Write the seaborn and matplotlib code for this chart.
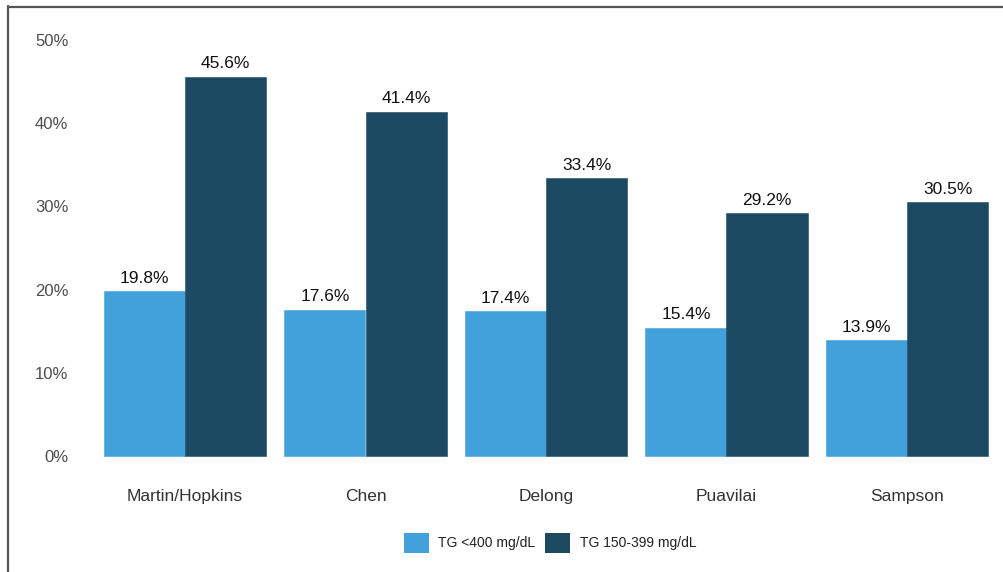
import matplotlib
matplotlib.use("Agg")
import matplotlib.pyplot as plt
import seaborn as sns
import pandas as pd
from matplotlib.lines import Line2D
from matplotlib.patches import Patch

methods = ["Martin/Hopkins", "Chen", "Delong", "Puavilai", "Sampson"]
groups = ["TG <400 mg/dL", "TG 150-399 mg/dL"]
tg_lt400 = [19.8, 17.6, 17.4, 15.4, 13.9]
tg_150_399 = [45.6, 41.4, 33.4, 29.2, 30.5]
yticks = [0, 10, 20, 30, 40, 50]
colors = ["#42A1DA", "#1C4A62"]

df = pd.DataFrame({
    "method": methods * 2,
    "group": [groups[0]] * len(methods) + [groups[1]] * len(methods),
    "value": tg_lt400 + tg_150_399,
})

sns.set_theme(style="white")
plt.rcParams["font.family"] = ["Liberation Sans", "DejaVu Sans"]

fig = plt.figure(figsize=(10.04, 5.72), dpi=100)
W, H = 1004, 572
x0 = 185 - 0.6 * 180.5
ax = fig.add_axes([x0 / W, (H - 476.8) / H, 1 - x0 / W, (476.8 - 19.2) / H])

sns.barplot(data=df, x="method", y="value", hue="group", order=methods,
            hue_order=groups, palette=colors, width=0.9, gap=0,
            saturation=1, linewidth=0, ax=ax, legend=False)

for p in ax.patches:
    p.set_edgecolor(p.get_facecolor())
    p.set_linewidth(0.4)

ax.set_xlim(-0.6, (1004 - 185) / 180.5)
ax.set_ylim(-2.5, 52.5)
ax.set_yticks(yticks)
ax.set_yticklabels([f"{v}%" for v in yticks], fontsize=12, color="#4D4D4D")
ax.tick_params(axis="y", length=0, pad=6)
ax.tick_params(axis="x", length=0, pad=8.5, labelsize=12.5, labelcolor="#333333")
ax.set_xlabel("")
ax.set_ylabel("")
for s in ax.spines.values():
    s.set_visible(False)
ax.grid(False)

for cont in ax.containers:
    ax.bar_label(cont, fmt="%.1f%%", padding=4, fontsize=12.5, color="#111111")

handles = [Patch(facecolor=c, edgecolor="none") for c in colors]
fig.legend(handles, groups, loc="center", bbox_to_anchor=(550 / W, (H - 543) / H),
           ncol=2, frameon=False, fontsize=10, handlelength=1.8, handleheight=1.8,
           handletextpad=0.7, columnspacing=0.7, labelcolor="#222222")

# outer frame (left and top edges visible)
fig.add_artist(Line2D([8.5 / W, 8.5 / W], [0, (H - 6) / H], transform=fig.transFigure,
                      color="#555555", linewidth=1.6))
fig.add_artist(Line2D([8 / W, 1], [(H - 6.5) / H, (H - 6.5) / H], transform=fig.transFigure,
                      color="#555555", linewidth=1.6))

fig.savefig("out.png", dpi=100)
